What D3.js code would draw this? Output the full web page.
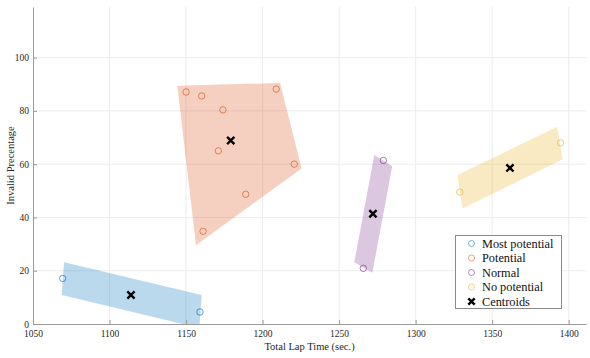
<!DOCTYPE html>
<html>
<head>
<meta charset="utf-8">
<script src="https://cdn.jsdelivr.net/npm/d3@7"></script>
<style>
  body { margin: 0; background: #fff; }
  text { font-family: "Liberation Serif", "Times New Roman", serif; }
</style>
</head>
<body>
<svg></svg>
<script>
// cluster names and colours
const clusters = ['Most potential', 'Potential', 'Normal', 'No potential'];
const colors = ['#0072BD', '#D95319', '#7E2F8E', '#EDB120'];

// observations [lap time, invalid %]
const mostPts = [[1069.4, 17.1], [1159.1, 4.5]];
const potPts = [[1150.0, 87.1], [1160.2, 85.6], [1174.1, 80.4], [1208.9, 88.2],
                [1171.1, 65.0], [1220.7, 60.0], [1189.0, 48.7], [1161.1, 34.8]];
const normPts = [[1278.9, 61.4], [1265.8, 20.9]];
const noPts = [[1394.7, 68.0], [1328.8, 49.5]];

// shaded hull of each cluster
const mostHull = [[1070.3, 23.2], [1160.2, 10.9], [1158.7, -1.5], [1068.7, 10.9]];
const potHull = [[1144.3, 89.4], [1211.4, 90.5], [1225.5, 58.4], [1156.5, 29.6]];
const normHull = [[1273.0, 63.4], [1284.7, 59.2], [1271.7, 19.2], [1259.9, 23.2]];
const noHull = [[1327.2, 55.9], [1392.5, 74.0], [1396.0, 61.8], [1330.7, 43.4]];

const centroids = [[1114.0, 10.9], [1179.2, 68.9], [1272.1, 41.4], [1361.6, 58.6]];

const xTicks = [1050, 1100, 1150, 1200, 1250, 1300, 1350, 1400];
const yTicks = [0, 20, 40, 60, 80, 100];

const points = [mostPts, potPts, normPts, noPts];
const hulls = [mostHull, potHull, normHull, noHull];

const W = 590, H = 358;
const m = {left: 33, right: 4, top: 7, bottom: 34};

const svg = d3.select('svg').attr('width', W).attr('height', H);

const x = d3.scaleLinear().domain([1050, 1411.3]).range([m.left, W - m.right]);
const y = d3.scaleLinear().domain([0, 119]).range([H - m.bottom, m.top]);

svg.append('clipPath').attr('id', 'clip')
  .append('rect')
  .attr('x', m.left).attr('y', m.top)
  .attr('width', W - m.left - m.right).attr('height', H - m.top - m.bottom);

// grid
const grid = svg.append('g');
grid.selectAll('.gx').data(xTicks.slice(1)).enter().append('line')
  .attr('x1', d => x(d)).attr('x2', d => x(d))
  .attr('y1', y(0)).attr('y2', m.top)
  .attr('stroke', '#ececec').attr('stroke-width', 1);
grid.selectAll('.gy').data(yTicks.slice(1)).enter().append('line')
  .attr('y1', d => y(d)).attr('y2', d => y(d))
  .attr('x1', m.left).attr('x2', W - m.right)
  .attr('stroke', '#ececec').attr('stroke-width', 1);

const plot = svg.append('g').attr('clip-path', 'url(#clip)');

const line = d3.line().x(d => x(d[0])).y(d => y(d[1]));
plot.selectAll('.hull').data(hulls).enter().append('path')
  .attr('d', d => line(d) + 'Z')
  .attr('fill', (d, i) => colors[i])
  .attr('fill-opacity', 0.27)
  .attr('stroke', 'none');

points.forEach((pts, i) => {
  plot.selectAll('.p' + i).data(pts).enter().append('circle')
    .attr('cx', d => x(d[0])).attr('cy', d => y(d[1]))
    .attr('r', 3.2)
    .attr('fill', 'none')
    .attr('stroke', colors[i])
    .attr('stroke-opacity', 0.65)
    .attr('stroke-width', 1);
});

function cross(g, cx, cy, s) {
  g.append('path')
    .attr('d', `M${cx - s},${cy - s}L${cx + s},${cy + s}M${cx - s},${cy + s}L${cx + s},${cy - s}`)
    .attr('stroke', '#000').attr('stroke-width', 2.4);
}
centroids.forEach(c => cross(plot, x(c[0]), y(c[1]), 3.6));

// axes
const fmt = d3.format('d');
const xAxis = svg.append('g').attr('transform', `translate(0,${y(0)})`)
  .call(d3.axisBottom(x).tickValues(xTicks).tickFormat(fmt).tickSizeInner(-4).tickSizeOuter(0).tickPadding(6));
const yAxis = svg.append('g').attr('transform', `translate(${m.left},0)`)
  .call(d3.axisLeft(y).tickValues(yTicks).tickFormat(fmt).tickSizeInner(-4).tickSizeOuter(0).tickPadding(4));
[xAxis, yAxis].forEach(a => {
  a.attr('font-family', '"Liberation Serif", serif').attr('font-size', 9.5);
  a.select('.domain').attr('stroke', '#9a9a9a');
  a.selectAll('.tick line').attr('stroke', '#9a9a9a');
  a.selectAll('.tick text').attr('fill', '#262626');
});

svg.append('text')
  .attr('x', (m.left + W - m.right) / 2).attr('y', 350)
  .attr('text-anchor', 'middle').attr('font-size', 10.5).attr('fill', '#262626')
  .text('Total Lap Time (sec.)');

svg.append('text')
  .attr('transform', `translate(14,${(m.top + y(0)) / 2}) rotate(-90)`)
  .attr('text-anchor', 'middle').attr('font-size', 10.5).attr('fill', '#262626')
  .text('Invalid Precentage');

// legend
const lg = svg.append('g');
lg.append('rect')
  .attr('x', 455.5).attr('y', 235.5).attr('width', 106).attr('height', 73)
  .attr('fill', '#fff').attr('stroke', '#8a8a8a').attr('stroke-width', 1);
const rowY = d3.scaleLinear().domain([0, 4]).range([243.5, 301.5]);
clusters.forEach((c, i) => {
  lg.append('circle').attr('cx', 471.5).attr('cy', rowY(i)).attr('r', 3)
    .attr('fill', 'none').attr('stroke', colors[i]).attr('stroke-opacity', 0.55).attr('stroke-width', 1);
  lg.append('text').attr('x', 482).attr('y', rowY(i) + 4.2)
    .attr('font-size', 12.3).attr('fill', '#111').text(c);
});
cross(lg, 471.5, rowY(4), 3.2);
lg.append('text').attr('x', 482).attr('y', rowY(4) + 4.2)
  .attr('font-size', 12.3).attr('fill', '#111').text('Centroids');
</script>
</body>
</html>
